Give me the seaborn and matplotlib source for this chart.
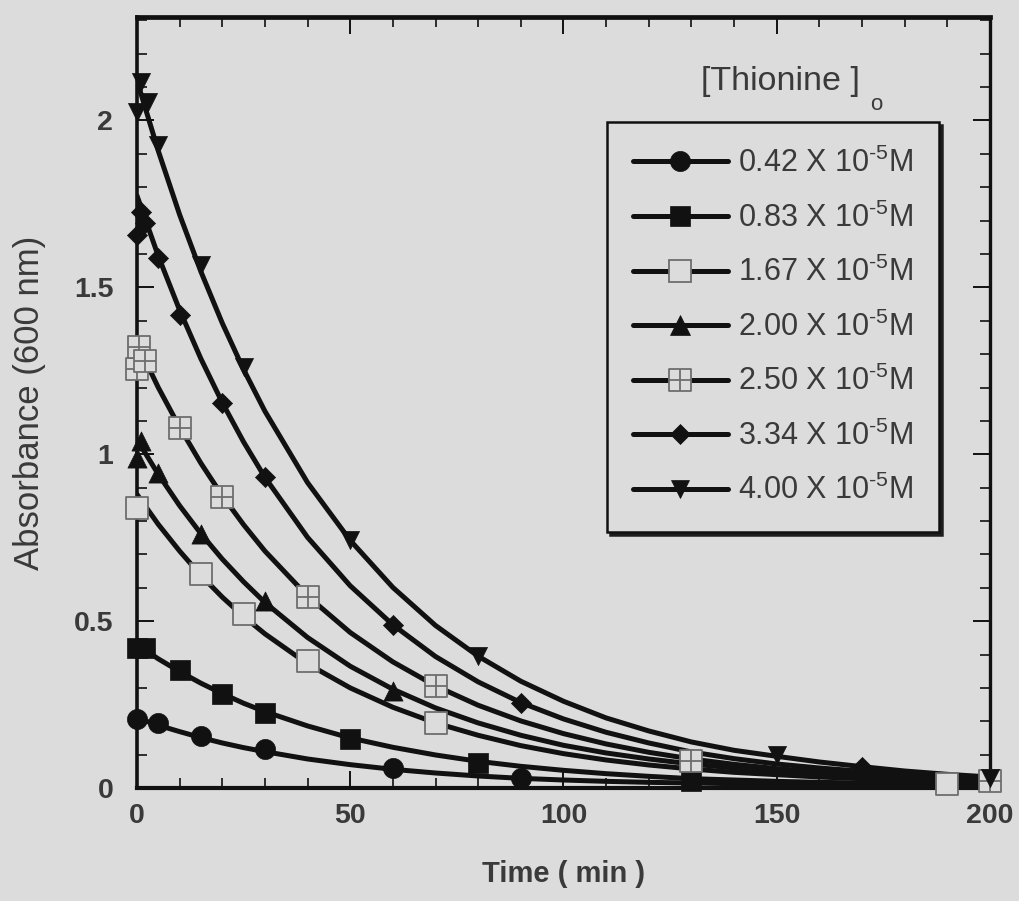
import numpy as np
import pandas as pd
import matplotlib
matplotlib.use("Agg")
import matplotlib.pyplot as plt
from matplotlib.path import Path
from matplotlib.lines import Line2D
from matplotlib.ticker import MultipleLocator
import seaborn as sns

# ---- measured points (time in min, absorbance at 600 nm) ----
t_042 = [0, 5, 15, 30, 60, 90]
a_042 = [0.207, 0.195, 0.156, 0.117, 0.060, 0.030]

t_083 = [0, 2, 10, 20, 30, 50, 80, 130]
a_083 = [0.420, 0.420, 0.354, 0.283, 0.225, 0.147, 0.075, 0.021]

t_167 = [0, 15, 25, 40, 70, 190]
a_167 = [0.838, 0.642, 0.520, 0.381, 0.195, 0.012]

t_200 = [0, 1, 5, 15, 30, 60]
a_200 = [0.990, 1.040, 0.943, 0.762, 0.561, 0.290]

t_250 = [0, 0.5, 2, 10, 20, 40, 70, 130, 200]
a_250 = [1.255, 1.320, 1.280, 1.080, 0.872, 0.571, 0.306, 0.081, 0.021]

t_334 = [0, 1, 2, 5, 10, 20, 30, 60, 90, 170]
a_334 = [1.658, 1.727, 1.694, 1.589, 1.417, 1.153, 0.931, 0.487, 0.256, 0.062]

t_400 = [0, 1, 2.5, 5, 15, 25, 50, 80, 150, 200]
a_400 = [2.024, 2.114, 2.054, 1.928, 1.568, 1.261, 0.742, 0.396, 0.098, 0.030]

# ---- fitted decay curves ----
t_fit = [0, 5, 10, 15, 20, 25, 30, 40, 50, 60, 70, 80, 90, 100,
         110, 120, 130, 140, 150, 160, 170, 180, 190, 200]
fit_042 = [0.210, 0.188, 0.169, 0.151, 0.135, 0.121, 0.109, 0.087, 0.070, 0.056,
           0.045, 0.036, 0.029, 0.024, 0.020, 0.017, 0.015, 0.013, 0.012, 0.011,
           0.010, 0.009, 0.008, 0.008]
fit_083 = [0.430, 0.387, 0.349, 0.314, 0.283, 0.254, 0.229, 0.186, 0.150, 0.122,
           0.099, 0.080, 0.065, 0.053, 0.043, 0.035, 0.028, 0.024, 0.020, 0.017,
           0.015, 0.013, 0.012, 0.011]
fit_167 = [0.880, 0.790, 0.710, 0.637, 0.572, 0.514, 0.462, 0.372, 0.300, 0.242,
           0.195, 0.158, 0.127, 0.103, 0.084, 0.069, 0.057, 0.047, 0.040, 0.033,
           0.028, 0.024, 0.021, 0.019]
fit_200 = [1.044, 0.940, 0.846, 0.762, 0.686, 0.618, 0.556, 0.451, 0.365, 0.296,
           0.240, 0.195, 0.158, 0.128, 0.105, 0.087, 0.072, 0.060, 0.050, 0.042,
           0.036, 0.031, 0.027, 0.024]
fit_250 = [1.333, 1.200, 1.081, 0.973, 0.876, 0.789, 0.710, 0.575, 0.466, 0.378,
           0.306, 0.248, 0.201, 0.163, 0.132, 0.107, 0.087, 0.071, 0.058, 0.048,
           0.040, 0.033, 0.027, 0.023]
fit_334 = [1.775, 1.594, 1.432, 1.286, 1.155, 1.037, 0.931, 0.751, 0.606, 0.489,
           0.394, 0.318, 0.256, 0.207, 0.167, 0.135, 0.108, 0.088, 0.072, 0.060,
           0.050, 0.041, 0.034, 0.028]
fit_400 = [2.120, 1.909, 1.718, 1.547, 1.393, 1.254, 1.129, 0.915, 0.742, 0.601,
           0.487, 0.395, 0.320, 0.260, 0.210, 0.171, 0.138, 0.113, 0.095, 0.078,
           0.064, 0.051, 0.041, 0.033]

concentrations = ["0.42", "0.83", "1.67", "2.00", "2.50", "3.34", "4.00"]

BG = "#dcdcdc"
INK = "#111111"
TXT = "#3a3a3a"
GREY_EDGE = "#6e6e6e"

sns.set_theme(style="ticks")
plt.rcParams["font.family"] = ["Liberation Sans", "DejaVu Sans"]
plt.rcParams["mathtext.fontset"] = "custom"
plt.rcParams["mathtext.rm"] = "Liberation Sans"
plt.rcParams["mathtext.it"] = "Liberation Sans"

# square with a cross inside
boxplus = Path(
    [(-1, -1), (1, -1), (1, 1), (-1, 1), (-1, -1),
     (0, -1), (0, 1), (-1, 0), (1, 0)],
    [Path.MOVETO, Path.LINETO, Path.LINETO, Path.LINETO, Path.CLOSEPOLY,
     Path.MOVETO, Path.LINETO, Path.MOVETO, Path.LINETO],
)

# marker style per series: (marker, area, face, edge, edge width)
styles = {
    "0.42": ("o", 210, INK, INK, 0.5),
    "0.83": ("s", 200, INK, INK, 0.5),
    "1.67": ("s", 250, BG, GREY_EDGE, 1.3),
    "2.00": ("^", 190, INK, INK, 0.5),
    "2.50": (boxplus, 250, BG, GREY_EDGE, 1.3),
    "3.34": ("D", 105, INK, INK, 0.5),
    "4.00": ("v", 170, INK, INK, 0.5),
}

points = {
    "0.42": (t_042, a_042), "0.83": (t_083, a_083), "1.67": (t_167, a_167),
    "2.00": (t_200, a_200), "2.50": (t_250, a_250), "3.34": (t_334, a_334),
    "4.00": (t_400, a_400),
}
fits = {
    "0.42": fit_042, "0.83": fit_083, "1.67": fit_167, "2.00": fit_200,
    "2.50": fit_250, "3.34": fit_334, "4.00": fit_400,
}

fit_df = pd.concat(
    [pd.DataFrame({"t": t_fit, "A": fits[c], "conc": c}) for c in concentrations],
    ignore_index=True,
)

fig = plt.figure(figsize=(10.19, 9.01), dpi=100, facecolor=BG)
ax = fig.add_axes([0.1344, 0.1254, 0.8371, 0.8557])
ax.set_facecolor(BG)

LW = 3.6
sns.lineplot(data=fit_df, x="t", y="A", hue="conc", palette=[INK] * 7,
             estimator=None, sort=False, linewidth=LW, legend=False,
             ax=ax, zorder=2)

for c in concentrations:
    m, s, fc, ec, ew = styles[c]
    tt, aa = points[c]
    sns.scatterplot(x=tt, y=aa, marker=m, s=s, color=fc, edgecolor=ec,
                    linewidth=ew, ax=ax, zorder=3, legend=False, clip_on=False)

ax.set_xlim(0, 200)
ax.set_ylim(0, 2.31)
ax.xaxis.set_major_locator(MultipleLocator(50))
ax.xaxis.set_minor_locator(MultipleLocator(10))
ax.yaxis.set_major_locator(MultipleLocator(0.5))
ax.yaxis.set_minor_locator(MultipleLocator(0.1))
ax.set_yticks([0, 0.5, 1, 1.5, 2])
ax.set_yticklabels(["0", "0.5", "1", "1.5", "2"])

for side in ["left", "bottom", "top", "right"]:
    ax.spines[side].set_visible(True)
    ax.spines[side].set_color(INK)
ax.spines["left"].set_linewidth(2.6)
ax.spines["bottom"].set_linewidth(3.0)
ax.spines["top"].set_linewidth(3.4)
ax.spines["right"].set_linewidth(2.4)

ax.tick_params(which="both", direction="in", top=True, right=True,
               color=INK, labelcolor=TXT)
ax.tick_params(which="major", length=12, width=1.4)
ax.tick_params(which="minor", length=7, width=1.2)
ax.tick_params(axis="x", which="major", pad=11)
ax.tick_params(axis="y", which="major", pad=17)
for lab in ax.get_xticklabels() + ax.get_yticklabels():
    lab.set_fontsize(20.5)
    lab.set_fontweight("bold")

ax.set_xlabel("Time ( min )", fontsize=21, fontweight="bold", color=TXT,
              labelpad=22)
ax.set_ylabel("Absorbance (600 nm)", fontsize=25, color=TXT, labelpad=20)

handles = []
labels = []
for c in concentrations:
    m, s, fc, ec, ew = styles[c]
    handles.append(Line2D([0], [0], color=INK, lw=LW, marker=m,
                          markersize=np.sqrt(s), markerfacecolor=fc,
                          markeredgecolor=ec, markeredgewidth=ew))
    labels.append(c + r" X 10$^{\text{-5}}$M")

leg = ax.legend(handles, labels, loc="upper left",
                bbox_to_anchor=(0.551, 0.864), frameon=True, fancybox=False,
                fontsize=22, handlelength=3.1, handletextpad=0.33,
                labelspacing=0.76, borderpad=0.85, borderaxespad=0,
                shadow={"color": "#1e1e1e", "alpha": 1})
leg.get_frame().set_facecolor(BG)
leg.get_frame().set_edgecolor(INK)
leg.get_frame().set_linewidth(1.8)
leg.get_frame().set_alpha(1)
for txt in leg.get_texts():
    txt.set_color(TXT)

ax.text(0.661, 0.916, "[Thionine ]", transform=ax.transAxes,
        fontsize=24.5, color=TXT, ha="left", va="center")
ax.text(0.860, 0.887, "o", transform=ax.transAxes,
        fontsize=16, color=TXT, ha="left", va="center")

fig.savefig("out.png", dpi=100, facecolor=BG)
